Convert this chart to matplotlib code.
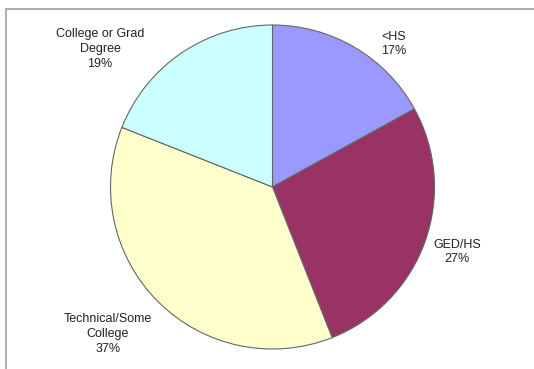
import matplotlib
matplotlib.use("Agg")
import matplotlib.pyplot as plt
from matplotlib.patches import Rectangle

# Education level shares
categories = ["<HS", "GED/HS", "Technical/Some\nCollege", "College or Grad\nDegree"]
shares = [17, 27, 37, 19]
colors = ["#9999FF", "#993366", "#FFFFCC", "#CCFFFF"]

# label anchor points (pixel coords, y up)
label_pos = [(394, 325), (457, 117), (108, 35), (100, 320)]

plt.rcParams["font.family"] = ["Liberation Sans", "DejaVu Sans"]

W, H = 534, 369
fig = plt.figure(figsize=(W / 100, H / 100), dpi=100)
ax = fig.add_axes([0, 0, 1, 1])
ax.set_xlim(0, W)
ax.set_ylim(0, H)
ax.axis("off")

# chart frame, cut off at right and bottom
ax.add_patch(Rectangle((6, -10), W + 20, H - 9 + 10, fill=False,
                       edgecolor="#a0a0a0", linewidth=1.2))

ax.pie(shares, colors=colors, startangle=90, counterclock=False,
       center=(272.5, 182), radius=162, frame=True,
       wedgeprops=dict(edgecolor="#666666", linewidth=0.8))
ax.set_xlim(0, W)
ax.set_ylim(0, H)
ax.set_aspect("equal")
ax.axis("off")

for name, val, (x, y) in zip(categories, shares, label_pos):
    ax.text(x, y, f"{name}\n{val}%", ha="center", va="center",
            fontsize=9, color="#222222", linespacing=1.3)

fig.savefig("out.png", dpi=100)
